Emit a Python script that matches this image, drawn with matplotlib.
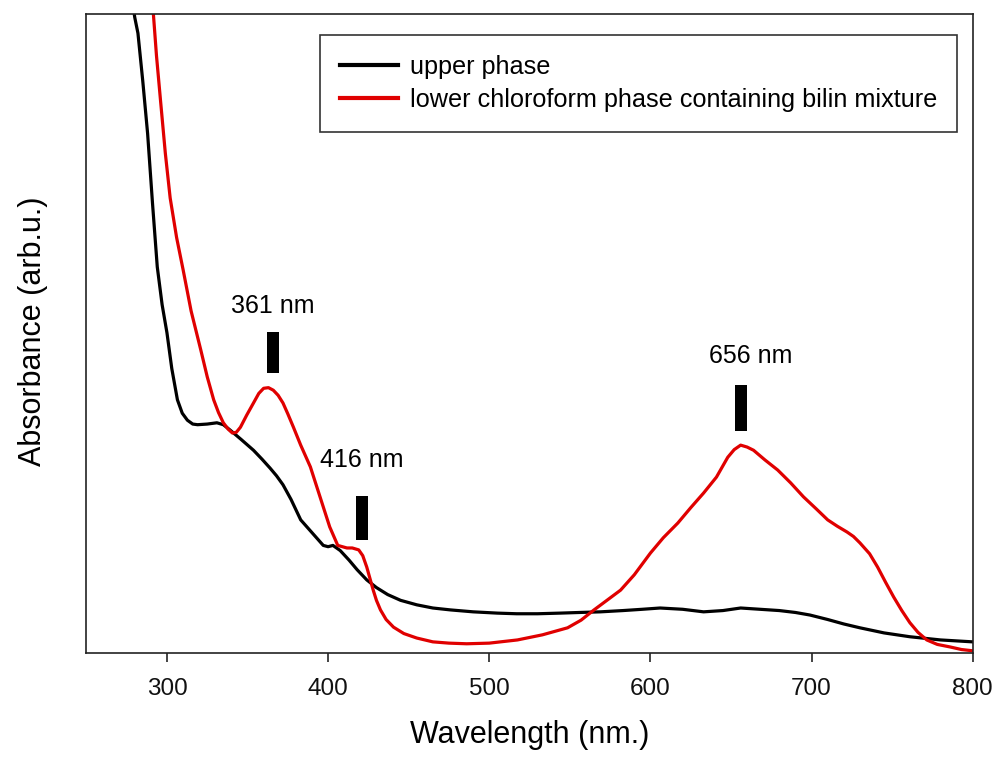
import matplotlib
matplotlib.use("Agg")
import matplotlib.pyplot as plt

plt.rcParams['font.family'] = ['Liberation Sans', 'DejaVu Sans']

# Upper phase (black)
upper_wl = [278, 280, 282, 285, 288, 291, 294, 297, 300, 303, 306.5, 309.5, 312.7, 316, 319,
            325, 331, 335, 339, 346, 353.7, 359, 364, 368, 372, 377, 383, 390, 397, 400,
            403, 407.5, 413, 418, 424, 430, 437, 445, 455, 465, 476, 490, 505, 517, 530,
            544, 556, 569, 583, 595, 606, 620, 633, 645, 656, 668, 680, 690, 699, 710, 720,
            730, 745, 761, 780, 800]
upper_abs = [1.03, 0.995, 0.970, 0.895, 0.813, 0.705, 0.604, 0.545, 0.501, 0.445, 0.396,
             0.375, 0.364, 0.358, 0.357, 0.358, 0.360, 0.357, 0.349, 0.334, 0.317, 0.303,
             0.289, 0.277, 0.263, 0.240, 0.208, 0.188, 0.168, 0.166, 0.168, 0.160, 0.145,
             0.130, 0.114, 0.102, 0.091, 0.082, 0.075, 0.070, 0.067, 0.064, 0.062, 0.061,
             0.061, 0.062, 0.063, 0.064, 0.066, 0.068, 0.070, 0.068, 0.064, 0.066, 0.070,
             0.068, 0.066, 0.063, 0.059, 0.052, 0.045, 0.039, 0.031, 0.025, 0.020, 0.017]

# Lower chloroform phase (red)
lower_wl = [291, 293.5, 296, 299, 302, 306, 310, 315, 321, 325, 329, 332, 335, 338,
            340.6, 343, 345.6, 349.5, 353.7, 357, 360, 363, 366, 369, 372, 375, 378.5,
            383, 389, 395, 401, 406, 411.7, 415, 419, 421.5, 424, 426, 428, 430, 432.5,
            436, 440.6, 447, 455, 465, 475, 486, 500, 517.5, 533, 548.6, 557, 565, 573,
            581.5, 590, 600, 608, 617, 625, 633, 641, 648, 652, 656, 660, 664, 671, 679,
            687, 695, 703, 710, 716, 722, 726, 730, 736, 741, 746, 751, 756, 761, 766,
            771.5, 778, 786, 793, 800]
lower_abs = [1.02, 0.935, 0.865, 0.782, 0.712, 0.650, 0.600, 0.535, 0.474, 0.432, 0.396,
             0.376, 0.360, 0.350, 0.344, 0.345, 0.353, 0.372, 0.391, 0.406, 0.414, 0.415,
             0.411, 0.403, 0.391, 0.374, 0.353, 0.325, 0.291, 0.244, 0.197, 0.168, 0.164,
             0.164, 0.161, 0.152, 0.134, 0.116, 0.098, 0.082, 0.067, 0.052, 0.040, 0.030,
             0.023, 0.017, 0.015, 0.014, 0.015, 0.020, 0.028, 0.039, 0.051, 0.067, 0.082,
             0.098, 0.122, 0.156, 0.180, 0.203, 0.227, 0.250, 0.275, 0.306, 0.318, 0.325,
             0.322, 0.317, 0.302, 0.286, 0.266, 0.244, 0.225, 0.208, 0.198, 0.189, 0.182,
             0.172, 0.155, 0.134, 0.110, 0.087, 0.066, 0.047, 0.032, 0.020, 0.013, 0.009,
             0.005, 0.003]

series_labels = ["upper phase", "lower chloroform phase containing bilin mixture"]
series_colors = ["#000000", "#e00000"]

# Peak annotations
peak_labels = ["361 nm", "416 nm", "656 nm"]
peak_marker_x = [366, 421, 656]
peak_marker_bottom = [0.438, 0.176, 0.347]
peak_marker_top = [0.502, 0.245, 0.419]
peak_label_x = [365.4, 421, 662]
peak_label_y = [0.543, 0.302, 0.4645]

xticks = [300, 400, 500, 600, 700, 800]

fig = plt.figure(figsize=(9.95, 7.58), dpi=100)
ax = fig.add_axes([0.0868, 0.1389, 0.8908, 0.8426])

ax.plot(upper_wl, upper_abs, color=series_colors[0], lw=2.3, label=series_labels[0],
        solid_joinstyle='round')
ax.plot(lower_wl, lower_abs, color=series_colors[1], lw=2.3, label=series_labels[1],
        solid_joinstyle='round')

heights = [t - b for t, b in zip(peak_marker_top, peak_marker_bottom)]
ax.bar(peak_marker_x, heights, bottom=peak_marker_bottom, width=7.5, color='black')
for lab, lx, ly in zip(peak_labels, peak_label_x, peak_label_y):
    ax.text(lx, ly, lab, ha='center', va='center', fontsize=18, color='black')

ax.set_xlim(250, 800)
ax.set_ylim(0, 1.0)
ax.set_xticks(xticks)
ax.set_xticklabels([str(t) for t in xticks])
ax.set_yticks([])
ax.tick_params(axis='x', direction='out', length=6.5, width=1.1, pad=12,
               labelsize=17.5, colors='#111111')
for sp in ax.spines.values():
    sp.set_linewidth(1.2)
    sp.set_color('#222222')

ax.set_xlabel("Wavelength (nm.)", fontsize=22, labelpad=14)
ax.set_ylabel("Absorbance (arb.u.)", fontsize=22)
ax.yaxis.set_label_coords(-0.043, 0.503)

leg = ax.legend(loc='upper left', bbox_to_anchor=(0.2636, 0.9671), borderaxespad=0,
                fontsize=18.2, frameon=True, fancybox=False, edgecolor='black',
                handlelength=2.3, handletextpad=0.45, borderpad=0.8, labelspacing=0.33)
leg.get_frame().set_linewidth(1.2)
for line in leg.get_lines():
    line.set_linewidth(3)

fig.savefig("out.png", dpi=100)
